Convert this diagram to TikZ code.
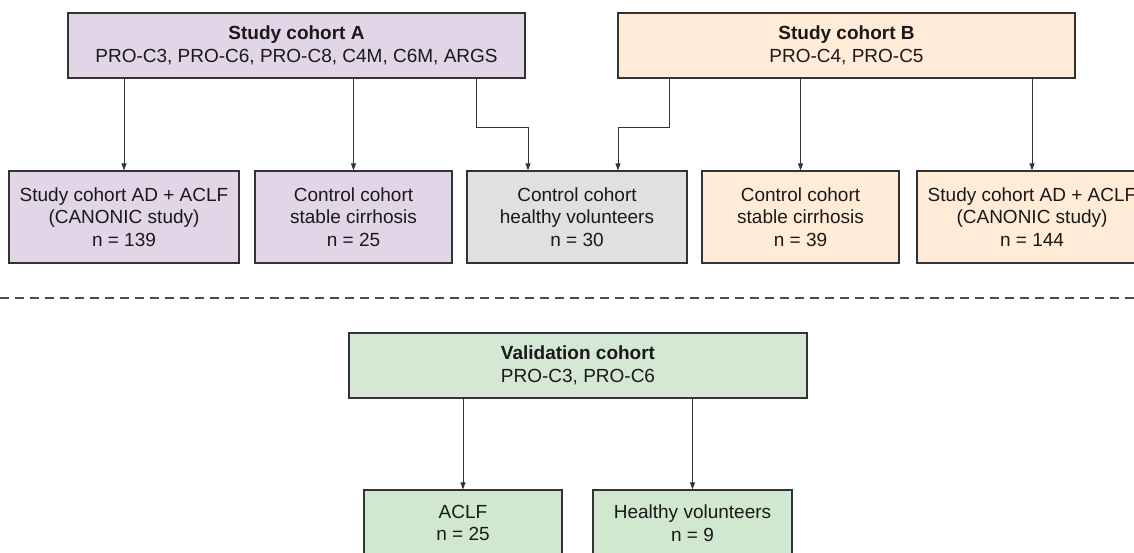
\documentclass[tikz,border=0pt]{standalone}
\usepackage{fontspec}
\setmainfont{Liberation Sans}
\usetikzlibrary{arrows.meta}
\definecolor{purp}{HTML}{E1D5E7}
\definecolor{oran}{HTML}{FFEBD6}
\definecolor{gryf}{HTML}{E0E0E0}
\definecolor{grnv}{HTML}{D5E8D4}
\definecolor{grnb}{HTML}{D0E8D0}
\definecolor{edge}{HTML}{333333}
\tikzset{
  box/.style={draw=edge, line width=1.2pt, rectangle, align=center, inner sep=0pt,
    font=\fontsize{19}{22.5}\selectfont, text=black!90},
  arr/.style={draw=edge, line width=0.9pt, -{Triangle[length=7pt,width=5pt]}},
  sep/.style={draw=black!70, line width=1.2pt, dash pattern=on 9pt off 6pt}
}
\begin{document}
\begin{tikzpicture}[x=1pt,y=-1pt]
\useasboundingbox (0,0) rectangle (1134,553);
\clip (0,0) rectangle (1134,553);
% top boxes
\node[box, fill=purp, minimum width=457pt, minimum height=65pt] (A) at (296.5,45.5)
  {\textbf{Study cohort A}\\PRO-C3, PRO-C6, PRO-C8, C4M, C6M, ARGS};
\node[box, fill=oran, minimum width=457pt, minimum height=65pt] (B) at (846.5,45.5)
  {\textbf{Study cohort B}\\PRO-C4, PRO-C5};
% row 2
\node[box, fill=purp, minimum width=230pt, minimum height=92pt] (c1) at (124,217)
  {Study cohort AD + ACLF\\(CANONIC study)\\n = 139};
\node[box, fill=purp, minimum width=197pt, minimum height=92pt] (c2) at (353.5,217)
  {Control cohort\\stable cirrhosis\\n = 25};
\node[box, fill=gryf, minimum width=220pt, minimum height=92pt] (c3) at (577,217)
  {Control cohort\\healthy volunteers\\n = 30};
\node[box, fill=oran, minimum width=197pt, minimum height=92pt] (c4) at (800.5,217)
  {Control cohort\\stable cirrhosis\\n = 39};
\node[box, fill=oran, minimum width=230pt, minimum height=92pt] (c5) at (1032,217)
  {Study cohort AD + ACLF\\(CANONIC study)\\n = 144};
% connectors top
\coordinate (ja) at (476,0);
\coordinate (jb) at (528,0);
\coordinate (jc) at (669,0);
\coordinate (jd) at (618,0);
\coordinate (jy) at (0,127);
\draw[arr] (A.south -| c1.north) -- (c1.north);
\draw[arr] (A.south -| c2.north) -- (c2.north);
\draw[arr] (A.south -| ja) -- (ja |- jy) -- (jb |- jy) -- (c3.north -| jb);
\draw[arr] (B.south -| jc) -- (jc |- jy) -- (jd |- jy) -- (c3.north -| jd);
\draw[arr] (B.south -| c4.north) -- (c4.north);
\draw[arr] (B.south -| c5.north) -- (c5.north);
% separator
\coordinate (sl) at (0,298);
\coordinate (sr) at (1134,298);
\draw[sep] (sl) -- (sr);
% validation
\node[box, fill=grnv, minimum width=458pt, minimum height=65pt] (V) at (578,365.5)
  {\textbf{Validation cohort}\\PRO-C3, PRO-C6};
\node[box, fill=grnb, minimum width=198pt, minimum height=66pt] (v1) at (463,523)
  {ACLF\\n = 25};
\node[box, fill=grnb, minimum width=199pt, minimum height=66pt] (v2) at (692.5,523)
  {Healthy volunteers\\n = 9};
\draw[arr] (V.south -| v1.north) -- (v1.north);
\draw[arr] (V.south -| v2.north) -- (v2.north);
\end{tikzpicture}
\end{document}
